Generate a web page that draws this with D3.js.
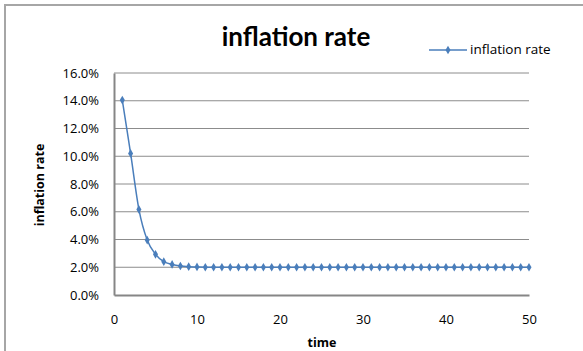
<!DOCTYPE html>
<html>
<head>
<meta charset="utf-8">
<script src="https://cdn.jsdelivr.net/npm/d3@7"></script>
<style>
  body { margin: 0; background: #fff; }
  svg { display: block; }
</style>
</head>
<body>
<div id="chart"></div>
<script>
// data
var times = d3.range(1, 51);
var rates = [14.05, 10.2, 6.17, 3.96, 2.93, 2.4, 2.2, 2.09, 2.04, 2.02,
  2.0, 2.0, 2.0, 2.0, 2.0, 2.0, 2.0, 2.0, 2.0, 2.0,
  2.0, 2.0, 2.0, 2.0, 2.0, 2.0, 2.0, 2.0, 2.0, 2.0,
  2.0, 2.0, 2.0, 2.0, 2.0, 2.0, 2.0, 2.0, 2.0, 2.0,
  2.0, 2.0, 2.0, 2.0, 2.0, 2.0, 2.0, 2.0, 2.0, 2.0];
var yTicks = [0, 2, 4, 6, 8, 10, 12, 14, 16];
var xTicks = [0, 10, 20, 30, 40, 50];
var seriesName = "inflation rate";

var width = 583, height = 351;
var plotL = 114, plotR = 529, plotT = 73, plotB = 295;
var blue = "#4a7ebb";
var font = "'Open Sans', sans-serif";

var svg = d3.select("#chart").append("svg")
    .attr("width", width)
    .attr("height", height);

// outer chart border (top + left only visible)
svg.append("path")
    .attr("d", "M5,351 L5,5 L583,5")
    .attr("fill", "none")
    .attr("stroke", "#a6a6a6")
    .attr("stroke-width", 2);

var x = d3.scaleLinear().domain([0, 50]).range([plotL, plotR]);
var y = d3.scaleLinear().domain([0, 16]).range([plotB, plotT]);

// gridlines
svg.append("g")
    .selectAll("line")
    .data(yTicks.filter(function (d) { return d > 0; }))
    .enter()
    .append("line")
    .attr("x1", plotL).attr("x2", plotR)
    .attr("y1", function (d) { return y(d); })
    .attr("y2", function (d) { return y(d); })
    .attr("stroke", "#8c8c8c")
    .attr("stroke-width", 1);

// axes
var yAxis = svg.append("g")
    .attr("transform", "translate(" + plotL + ",0)")
    .call(d3.axisLeft(y).tickValues(yTicks).tickSize(0).tickPadding(15)
        .tickFormat(function (d) { return d.toFixed(1) + "%"; }));
yAxis.select(".domain").attr("stroke", "#868686").attr("stroke-width", 2);
yAxis.selectAll("text").attr("font-family", font).attr("font-size", 13).attr("fill", "#000");

var xAxis = svg.append("g")
    .attr("transform", "translate(0," + plotB + ")")
    .call(d3.axisBottom(x).tickValues(xTicks).tickSize(0).tickPadding(20));
xAxis.select(".domain").attr("stroke", "#868686").attr("stroke-width", 2);
xAxis.selectAll("text").attr("font-family", font).attr("font-size", 13).attr("fill", "#000");

// series
var pts = times.map(function (t, i) { return [t, rates[i]]; });

var line = d3.line()
    .x(function (d) { return x(d[0]); })
    .y(function (d) { return y(d[1]); })
    .curve(d3.curveCatmullRom.alpha(0));

svg.append("path")
    .datum(pts)
    .attr("d", line)
    .attr("fill", "none")
    .attr("stroke", blue)
    .attr("stroke-width", 1.5);

var diamond = d3.symbol().type(d3.symbolDiamond).size(22);

svg.append("g")
    .selectAll("path")
    .data(pts)
    .enter()
    .append("path")
    .attr("d", diamond)
    .attr("transform", function (d) { return "translate(" + x(d[0]) + "," + y(d[1]) + ")"; })
    .attr("fill", blue);

// title
svg.append("text")
    .attr("x", 296).attr("y", 46)
    .attr("text-anchor", "middle")
    .attr("font-family", "Lato, sans-serif")
    .attr("font-weight", "bold")
    .attr("font-size", 26)
    .text("inflation rate");

// legend
var lg = svg.append("g");
lg.append("line")
    .attr("x1", 429).attr("x2", 467)
    .attr("y1", 50).attr("y2", 50)
    .attr("stroke", blue).attr("stroke-width", 1.5);
lg.append("path")
    .attr("d", diamond)
    .attr("transform", "translate(448,50)")
    .attr("fill", blue);
lg.append("text")
    .attr("x", 470).attr("y", 54)
    .attr("font-family", font)
    .attr("font-size", 13.5)
    .text(seriesName);

// axis titles
svg.append("text")
    .attr("transform", "translate(44,185) rotate(-90)")
    .attr("text-anchor", "middle")
    .attr("font-family", font)
    .attr("font-weight", "bold")
    .attr("font-size", 12.5)
    .text("inflation rate");

svg.append("text")
    .attr("x", 322).attr("y", 347)
    .attr("text-anchor", "middle")
    .attr("font-family", font)
    .attr("font-weight", "bold")
    .attr("font-size", 12.5)
    .text("time");
</script>
</body>
</html>
